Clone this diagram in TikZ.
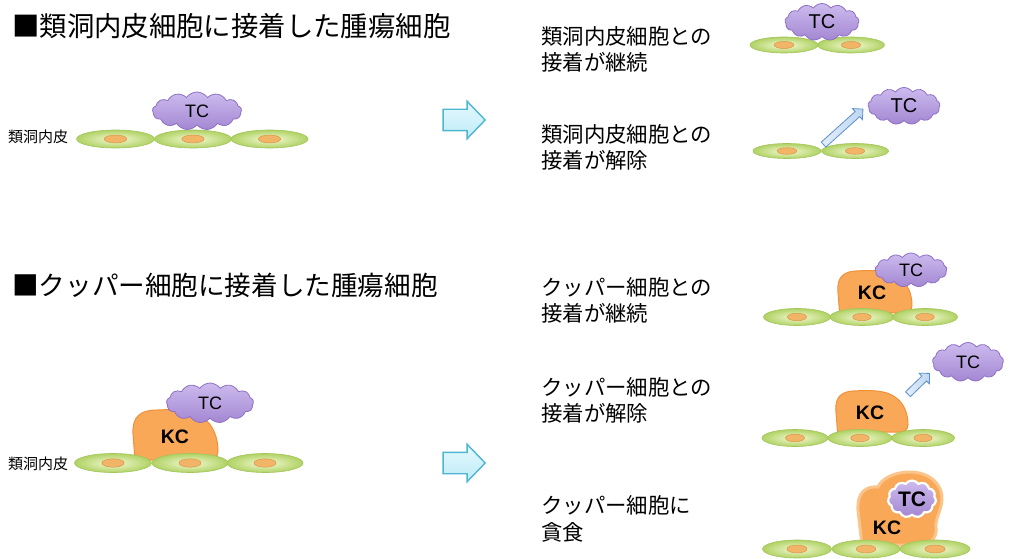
\documentclass[tikz,border=0pt]{standalone}
\usepackage{fontspec}
\setmainfont{Noto Sans CJK JP}
\newfontfamily\latinsans{Liberation Sans}
\usetikzlibrary{shapes.symbols,shapes.arrows,shapes.geometric}

\definecolor{cellin}{HTML}{F4FAD6}
\definecolor{cellout}{HTML}{B0D264}
\definecolor{cellrim}{HTML}{A3C55C}
\definecolor{nucfill}{HTML}{F2B466}
\definecolor{nucrim}{HTML}{D8974A}
\definecolor{tctop}{HTML}{CDBBEE}
\definecolor{tcbot}{HTML}{A387D2}
\definecolor{tcrim}{HTML}{8E70C4}
\definecolor{kcfill}{HTML}{F8A857}
\definecolor{kcrim}{HTML}{F0913A}
\definecolor{kchalo}{HTML}{FBC48A}
\definecolor{bigtop}{HTML}{E6F9FE}
\definecolor{bigbot}{HTML}{BDEBF7}
\definecolor{bigrim}{HTML}{4DB6D0}
\definecolor{smtop}{HTML}{E4EEFA}
\definecolor{smbot}{HTML}{BFD6F2}
\definecolor{smrim}{HTML}{5B8FCE}

\tikzset{
  cell/.style={ellipse, draw=cellrim, line width=0.6pt, inner color=cellin,
    outer color=cellout, inner sep=0pt},
  nucleus/.style={ellipse, draw=nucrim, line width=0.5pt, fill=nucfill, inner sep=0pt},
  tumor/.style={cloud, cloud puffs=13, cloud puff arc=110, aspect=2.2,
    draw=tcrim, line width=0.8pt, top color=tctop, bottom color=tcbot, inner sep=0pt,
    font=\latinsans\fontsize{18}{18}\selectfont},
  kupffer/.style={fill=kcfill, draw=kcrim, line width=1pt},
  kclabel/.style={font=\latinsans\bfseries\fontsize{19.5}{20}\selectfont, inner sep=0pt},
  bigarrow/.style={single arrow, single arrow head extend=8pt, single arrow tip angle=92,
    minimum height=42pt, minimum width=36pt, inner xsep=0pt, inner ysep=10pt,
    draw=bigrim, line width=1.4pt, top color=bigtop, bottom color=bigbot},
  smallarrow/.style={single arrow, single arrow head extend=4pt,
    minimum width=14pt, inner xsep=0pt, inner ysep=3pt, draw=smrim, line width=0.8pt,
    left color=smtop, right color=smbot},
  heading/.style={anchor=base west, inner sep=0pt},
  caption/.style={anchor=base west, inner sep=0pt, align=left,
    font=\fontsize{21.4}{26}\selectfont},
  tag/.style={anchor=base west, inner sep=0pt, font=\fontsize{15}{16}\selectfont},
  pics/kcbody/.style={code={
    \draw[kupffer] (3,51) -- (1,25) .. controls (0,8) and (8,1) .. (25,1)
      .. controls (45,0) and (60,1) .. (70,8) .. controls (82,16) and (86,30) .. (86,42)
      .. controls (86,48) and (82,51) .. (75,51) -- cycle;
  }}
}

% endothelial cell with its nucleus: name, centre, width, height
\newcommand\EndoCell[4]{%
  \node[cell, minimum width=#3pt, minimum height=#4pt] (#1) at #2 {};
  \node[nucleus, minimum width=0.29*#3pt, minimum height=0.44*#4pt] (#1-n) at #2 {};
}

\begin{document}
\begin{tikzpicture}[x=1pt, y=-1pt]
\useasboundingbox (0,0) rectangle (1015,559);
\fill[white] (0,0) rectangle (1015,559);

% ---------- headings ----------
\node[heading, font=\fontsize{27.4}{30}\selectfont] (h1) at (12,37) {■類洞内皮細胞に接着した腫瘍細胞};
\node[heading, font=\fontsize{26.6}{30}\selectfont] (h2) at (12,295) {■クッパー細胞に接着した腫瘍細胞};

% ---------- upper row: tumour cell on the sinusoidal endothelium ----------
\node[tag] (t1) at (8,142.5) {類洞内皮};
\EndoCell{a1}{(115.5,139)}{78}{18}
\EndoCell{a2}{(193,139)}{77}{18}
\EndoCell{a3}{(269.5,139)}{77}{18}
\node[tumor, minimum width=89pt, minimum height=38pt] (atc) at (197,111) {TC};

\node[bigarrow] (arr1) at (459,120) {};

% captions: the coordinate is the baseline of the second line
\node[caption] (c1) at (541,71) {類洞内皮細胞との\\接着が継続};
\EndoCell{b1}{(784,45)}{68}{16}
\EndoCell{b2}{(851,45)}{67}{16}
\node[tumor, minimum width=74pt, minimum height=37pt,
  font=\latinsans\fontsize{20}{20}\selectfont] (btc) at (822,22) {TC};

\node[caption] (c2) at (541,168) {類洞内皮細胞との\\接着が解除};
\EndoCell{d1}{(787,151)}{68}{15}
\EndoCell{d2}{(855,151)}{67}{15}
\node[tumor, minimum width=72pt, minimum height=37pt,
  font=\latinsans\fontsize{20}{20}\selectfont] (dtc) at (904,106) {TC};
\node[smallarrow, minimum height=53pt, rotate=42] (darr) at (842,128) {};

% ---------- lower row: tumour cell on a Kupffer cell ----------
\node[tag] (t2) at (8,469.5) {類洞内皮};
\pic at (132,409) {kcbody};
\node[kclabel] (ekc) at (175,437) {KC};
\EndoCell{e1}{(113,463)}{77}{19}
\EndoCell{e2}{(190,463)}{76}{19}
\EndoCell{e3}{(265,463)}{76}{19}
\node[tumor, minimum width=87pt, minimum height=40pt] (etc) at (210,403) {TC};

\node[bigarrow] (arr2) at (459,463) {};

% adhesion kept
\node[caption] (c3) at (541,321) {クッパー細胞との\\接着が継続};
\pic[xscale=0.872, yscale=0.843] at (837,270) {kcbody};
\node[kclabel] (fkc) at (872,293) {KC};
\EndoCell{f1}{(797,317)}{67}{17}
\EndoCell{f2}{(862,317)}{64}{17}
\EndoCell{f3}{(925,317)}{65}{17}
\node[tumor, minimum width=72pt, minimum height=34pt] (ftc) at (911,270) {TC};

% adhesion released
\node[caption] (c4) at (541,421) {クッパー細胞との\\接着が解除};
\pic[xscale=0.849, yscale=0.824] at (835,390) {kcbody};
\node[kclabel] (gkc) at (870,413) {KC};
\EndoCell{g1}{(795,438)}{66}{17}
\EndoCell{g2}{(860,438)}{64}{17}
\EndoCell{g3}{(923,438)}{63}{17}
\node[tumor, minimum width=71pt, minimum height=39pt] (gtc) at (968,362) {TC};
\node[smallarrow, minimum height=30pt, rotate=44] (garr) at (917.5,385) {};

% phagocytosis
\node[caption, font=\fontsize{21.4}{27}\selectfont] (c5) at (541,540) {クッパー細胞に\\貪食};
\path[draw=kchalo, line width=3pt, fill=kcfill]
  (862,545) -- (858,510) .. controls (857,492) and (866,486) .. (878,487)
  .. controls (882,478) and (895,472) .. (910,472)
  .. controls (930,472) and (943,485) .. (942,500)
  .. controls (941,512) and (935,518) .. (936,528)
  .. controls (937,538) and (930,545) .. (920,545) -- cycle;
\node[tumor, cloud puffs=11, aspect=1.3, draw=white, line width=2.2pt,
  minimum width=48pt, minimum height=37pt,
  font=\latinsans\bfseries\fontsize{21}{21}\selectfont] (htc) at (912,499) {TC};
\node[kclabel] (hkc) at (887,528) {KC};
\EndoCell{h1}{(797,549)}{69}{18}
\EndoCell{h2}{(866,549)}{68}{18}
\EndoCell{h3}{(935,549)}{70}{18}
\end{tikzpicture}
\end{document}
